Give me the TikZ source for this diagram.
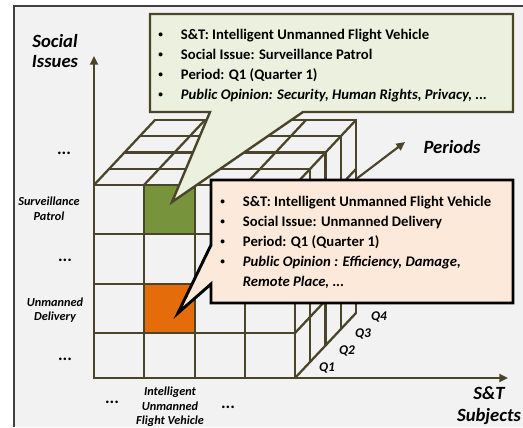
\documentclass[tikz,border=0pt]{standalone}
\usepackage{fontspec}
\setmainfont{Carlito}
\usetikzlibrary{arrows.meta,positioning,calc}
\definecolor{gridolive}{HTML}{4A452A}
\definecolor{panel}{HTML}{F2F2F2}
\definecolor{frameline}{HTML}{404040}
\definecolor{leafgreen}{HTML}{77933C}
\definecolor{pumpkin}{HTML}{E46C0A}
\definecolor{sagefill}{HTML}{EBF1DE}
\definecolor{peachfill}{HTML}{FDE9D9}
\newcommand{\bul}{\makebox[17pt][l]{\raisebox{0.3ex}{\fontsize{7}{7}\selectfont\textbullet}}}
\tikzset{
  gridline/.style={draw=gridolive, line width=1.7pt, line cap=round},
  axisarrow/.style={-{Triangle[length=6.5pt,width=6pt]}, draw=gridolive, line width=1.6pt},
  axislabel/.style={font=\fontsize{14}{15.5}\selectfont\bfseries\itshape,
    align=center, inner sep=0pt},
  itemlabel/.style={font=\fontsize{9.2}{11}\selectfont\bfseries\itshape,
    align=center, inner sep=0pt},
  dotslabel/.style={font=\fontsize{13}{13}\selectfont\bfseries, inner sep=0pt},
  qlabel/.style={font=\fontsize{10}{11}\selectfont\bfseries\itshape, inner sep=0pt},
  infotext/.style={font=\fontsize{11}{15}\selectfont\bfseries, align=left,
    anchor=north west, inner sep=0pt},
  calloutsage/.style={fill=sagefill, draw=gridolive, line width=1.8pt, line join=miter},
  calloutpeach/.style={fill=peachfill, draw=black, line width=2.2pt, line join=miter},
}

\begin{document}
\begin{tikzpicture}[x=0.75pt, y=-0.75pt]
  \useasboundingbox (0,0) rectangle (523,427);
  \fill[panel] (14,6) rectangle (523,427);
  \draw[frameline, line width=0.8pt] (14,427) -- (14,6) -- (523,6);

  \coordinate (origin) at (94,378);
  \coordinate (issuetip) at (94,56);
  \coordinate (subjecttip) at (508,378);
  \coordinate (periodtip) at (405,142);

  % periods axis, mostly hidden behind the cube
  \draw[axisarrow] (origin) -- (periodtip);

  % cube faces
  \fill[panel] (94,185) -- (155,120) -- (356,120) -- (356,313) -- (295,378) -- (94,378) -- cycle;
  \fill[leafgreen] (144,185) rectangle (195,234);
  \fill[pumpkin] (144,284) rectangle (195,333);
  % front face
  \foreach \gx in {94,144,195,245,295} \draw[gridline] (\gx,185) -- (\gx,378);
  \foreach \gy in {185,234,284,333,378} \draw[gridline] (94,\gy) -- (295,\gy);
  % top face
  \foreach \gx in {94,144,195,245,295} \draw[gridline] (\gx,185) -- ++(61,-65);
  \foreach \k in {1,...,4} \draw[gridline] (94+15.25*\k,185-16.25*\k) -- ++(201,0);
  % right face
  \foreach \k in {1,...,4} \draw[gridline] (295+15.25*\k,185-16.25*\k) -- ++(0,193);
  \foreach \gy in {234,284,333,378} \draw[gridline] (295,\gy) -- ++(61,-65);

  \draw[axisarrow] (origin) -- (issuetip);
  \draw[axisarrow] (origin) -- (subjecttip);

  % axis labels
  \node[axislabel] (issueslbl) at (55,51) {Social\\Issues};
  \node[axislabel] (periodslbl) at (452,147) {Periods};
  \node[axislabel, font=\fontsize{14}{16.5}\selectfont\bfseries\itshape] (subjectslbl)
    at (489,406) {S\&T\\Subjects};
  \node[qlabel] (q1) at (327,368) {Q1};
  \node[qlabel] (q2) at (347,351) {Q2};
  \node[qlabel] (q3) at (363,334) {Q3};
  \node[qlabel] (q4) at (379,317) {Q4};

  \node[dotslabel] (dotsa) at (64,153) {...};
  \node[itemlabel] (patrollbl) at (49,209) {Surveillance\\Patrol};
  \node[dotslabel] (dotsb) at (65,260) {...};
  \node[itemlabel] (deliverylbl) at (55,310) {Unmanned\\Delivery};
  \node[dotslabel] (dotsc) at (65,359) {...};
  \node[dotslabel] (dotsd) at (112,402) {...};
  \node[itemlabel] (vehiclelbl) at (170,407) {Intelligent\\Unmanned\\Flight Vehicle};
  \node[dotslabel] (dotse) at (228,407) {...};

  % callouts
  \coordinate (surveiltip) at (172,202);
  \coordinate (deliverytip) at (178,313);
  \draw[calloutsage] (150,14) -- (513,14) -- (513,112) -- (303,112) -- (surveiltip)
    -- (210,112) -- (150,112) -- cycle;
  \node[infotext] (surveilinfo) at (158,29) {%
    \bul S\&T: Intelligent Unmanned Flight Vehicle\\
    \bul Social Issue: Surveillance Patrol\\
    \bul Period: Q1 (Quarter 1)\\
    \bul \textit{Public Opinion: Security, Human Rights, Privacy, ...}};

  \draw[calloutpeach] (211,180) -- (513,180) -- (513,303) -- (211,303) -- (211,284)
    -- (deliverytip) -- (211,245) -- cycle;
  \node[infotext] (deliveryinfo) at (220,196) {%
    \bul S\&T: Intelligent Unmanned Flight Vehicle\\
    \bul Social Issue: Unmanned Delivery\\
    \bul Period: Q1 (Quarter 1)\\
    \bul \textit{Public Opinion : Efficiency, Damage,}\\
    \hspace*{17pt}\textit{Remote Place, ...}};
\end{tikzpicture}
\end{document}
